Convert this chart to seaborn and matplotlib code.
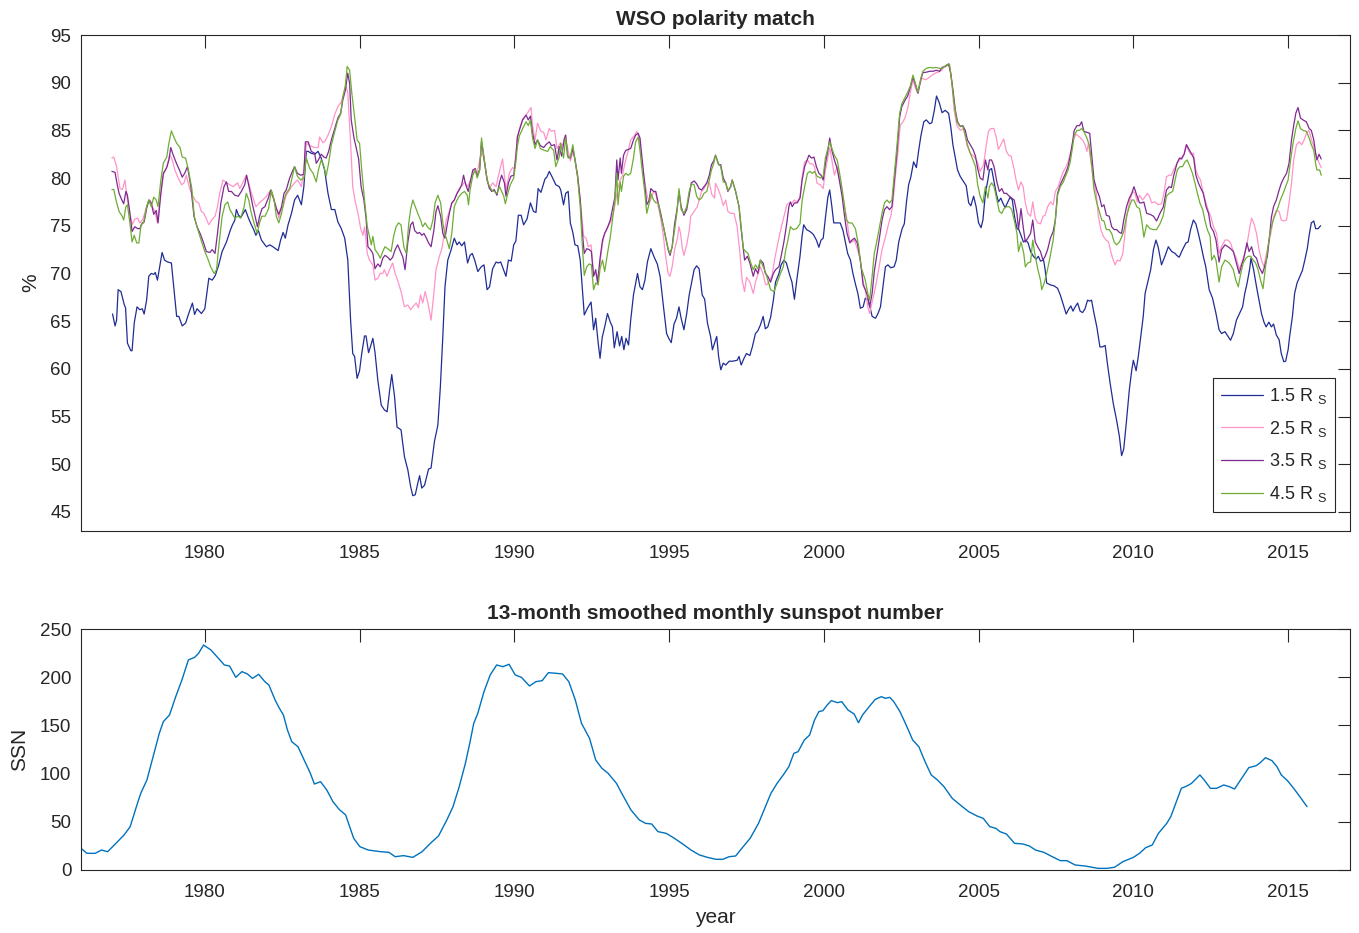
import numpy as np
import pandas as pd
import matplotlib
matplotlib.use("Agg")
import matplotlib.pyplot as plt
import seaborn as sns

# ---- WSO polarity match (%) at four source-surface heights: (year, percent) ----
wso_15 = [
    (1977.02, 65.75), (1977.10, 64.5), (1977.15, 65.1), (1977.20, 68.3), (1977.29, 68.1), (1977.40, 66.7),
    (1977.44, 66.4), (1977.50, 62.7), (1977.61, 61.9), (1977.65, 61.9), (1977.72, 64.8), (1977.81, 66.5),
    (1977.90, 66.2), (1977.98, 66.3), (1978.04, 65.75), (1978.12, 67.2), (1978.19, 69.7), (1978.27, 70.0),
    (1978.35, 69.9), (1978.40, 70.1), (1978.47, 69.3), (1978.62, 72.2), (1978.70, 71.4), (1978.80, 71.2),
    (1978.92, 71.1), (1979.09, 65.5), (1979.16, 65.5), (1979.27, 64.5), (1979.38, 64.8), (1979.48, 65.8),
    (1979.60, 66.9), (1979.67, 65.7), (1979.75, 66.3), (1979.89, 65.8), (1980.00, 66.3), (1980.13, 69.5),
    (1980.24, 69.3), (1980.34, 69.8), (1980.45, 70.9), (1980.56, 72.3), (1980.70, 73.3), (1980.81, 74.4),
    (1980.88, 75.0), (1980.97, 75.6), (1981.02, 76.7), (1981.09, 76.1), (1981.17, 75.9), (1981.31, 76.7),
    (1981.41, 75.8), (1981.49, 75.2), (1981.58, 74.6), (1981.65, 74.0), (1981.73, 74.5), (1981.83, 73.5),
    (1981.99, 72.8), (1982.10, 73.0), (1982.20, 72.8), (1982.37, 72.4), (1982.45, 73.5), (1982.53, 74.3),
    (1982.60, 73.7), (1982.69, 75.1), (1982.80, 76.3), (1982.90, 77.7), (1983.00, 78.2), (1983.12, 77.2),
    (1983.20, 79.1), (1983.28, 82.8), (1983.34, 82.8), (1983.44, 82.6), (1983.55, 82.5), (1983.66, 82.8),
    (1983.76, 82.1), (1983.87, 80.85), (1983.98, 78.4), (1984.09, 76.7), (1984.20, 76.7), (1984.30, 75.4),
    (1984.41, 74.7), (1984.52, 73.7), (1984.62, 71.4), (1984.71, 65.1), (1984.78, 61.6), (1984.84, 61.3),
    (1984.92, 59.0), (1985.00, 59.8), (1985.07, 61.6), (1985.16, 63.45), (1985.21, 63.45), (1985.29, 61.7),
    (1985.35, 62.3), (1985.43, 63.2), (1985.50, 61.7), (1985.59, 58.8), (1985.70, 56.2), (1985.80, 55.7),
    (1985.89, 55.5), (1985.97, 57.7), (1986.04, 59.4), (1986.13, 57.1), (1986.21, 53.9), (1986.34, 53.6),
    (1986.45, 50.8), (1986.56, 49.4), (1986.65, 47.65), (1986.72, 46.7), (1986.80, 46.8), (1986.88, 48.0),
    (1986.94, 48.8), (1987.01, 47.5), (1987.10, 47.8), (1987.23, 49.5), (1987.31, 49.6), (1987.42, 52.4),
    (1987.53, 54.1), (1987.61, 58.1), (1987.69, 63.4), (1987.76, 68.6), (1987.85, 71.4), (1987.96, 72.5),
    (1988.06, 73.7), (1988.15, 73.0), (1988.22, 73.3), (1988.30, 72.9), (1988.39, 73.3), (1988.49, 71.1),
    (1988.57, 71.9), (1988.64, 72.1), (1988.72, 71.4), (1988.82, 70.2), (1988.93, 70.7), (1989.02, 70.9),
    (1989.12, 68.3), (1989.20, 68.6), (1989.30, 70.5), (1989.41, 71.2), (1989.48, 71.1), (1989.56, 71.2),
    (1989.65, 70.4), (1989.73, 69.7), (1989.81, 71.4), (1989.90, 71.3), (1989.98, 73.0), (1990.05, 73.4),
    (1990.13, 76.1), (1990.22, 76.1), (1990.30, 75.1), (1990.41, 75.7), (1990.52, 77.4), (1990.62, 76.5),
    (1990.70, 76.4), (1990.77, 78.9), (1990.86, 78.5), (1990.99, 79.9), (1991.05, 80.1), (1991.13, 80.7),
    (1991.24, 80.0), (1991.34, 79.3), (1991.45, 79.1), (1991.50, 78.75), (1991.59, 77.2), (1991.66, 78.4),
    (1991.74, 78.6), (1991.81, 75.3), (1991.89, 74.3), (1991.96, 73.0), (1992.05, 72.9), (1992.13, 71.4),
    (1992.20, 68.3), (1992.26, 65.65), (1992.37, 66.4), (1992.48, 67.0), (1992.56, 64.1), (1992.63, 65.3),
    (1992.71, 62.7), (1992.77, 61.1), (1992.84, 63.3), (1992.92, 64.4), (1993.01, 65.8), (1993.10, 64.9),
    (1993.17, 64.4), (1993.23, 62.2), (1993.32, 63.9), (1993.40, 62.4), (1993.47, 63.4), (1993.54, 62.0),
    (1993.61, 63.2), (1993.69, 62.5), (1993.76, 65.1), (1993.85, 67.75), (1993.98, 70.0), (1994.06, 68.6),
    (1994.14, 68.3), (1994.22, 69.3), (1994.30, 71.2), (1994.41, 72.6), (1994.52, 71.7), (1994.62, 71.0),
    (1994.71, 69.7), (1994.82, 66.5), (1994.92, 63.7), (1994.99, 63.2), (1995.07, 62.75), (1995.16, 64.7),
    (1995.24, 65.3), (1995.32, 66.5), (1995.39, 65.3), (1995.48, 64.1), (1995.57, 65.8), (1995.65, 67.75),
    (1995.72, 68.9), (1995.81, 70.4), (1995.89, 70.8), (1995.97, 70.5), (1996.07, 67.75), (1996.15, 67.3),
    (1996.24, 64.8), (1996.34, 63.4), (1996.40, 62.0), (1996.47, 62.7), (1996.54, 63.4), (1996.60, 61.3),
    (1996.67, 59.9), (1996.75, 60.6), (1996.83, 60.4), (1996.94, 60.8), (1997.05, 60.8), (1997.20, 60.9),
    (1997.26, 61.3), (1997.33, 60.4), (1997.42, 61.1), (1997.50, 61.6), (1997.61, 61.4), (1997.69, 62.3),
    (1997.79, 63.7), (1997.87, 64.0), (1997.95, 64.6), (1998.04, 65.5), (1998.11, 64.2), (1998.19, 64.4),
    (1998.28, 65.4), (1998.37, 67.2), (1998.44, 69.1), (1998.55, 70.0), (1998.62, 70.9), (1998.71, 71.4),
    (1998.79, 71.1), (1998.90, 69.8), (1998.97, 69.1), (1999.05, 67.3), (1999.13, 69.4), (1999.23, 71.8),
    (1999.30, 74.0), (1999.35, 75.1), (1999.44, 74.6), (1999.55, 74.4), (1999.66, 74.1), (1999.76, 73.5),
    (1999.84, 72.75), (1999.91, 73.5), (1999.98, 73.7), (2000.05, 75.8), (2000.13, 78.0), (2000.19, 78.75),
    (2000.26, 77.0), (2000.32, 75.3), (2000.42, 75.3), (2000.53, 75.3), (2000.62, 74.5), (2000.70, 73.2),
    (2000.77, 72.1), (2000.86, 71.4), (2000.94, 70.0), (2001.02, 68.9), (2001.10, 67.9), (2001.18, 66.35),
    (2001.27, 66.5), (2001.34, 67.4), (2001.42, 67.3), (2001.49, 66.5), (2001.56, 65.5), (2001.67, 65.3),
    (2001.75, 65.8), (2001.83, 66.5), (2001.91, 68.6), (2001.99, 70.7), (2002.07, 70.9), (2002.16, 70.6),
    (2002.27, 70.7), (2002.34, 71.4), (2002.42, 73.3), (2002.53, 74.7), (2002.60, 75.2), (2002.67, 77.5),
    (2002.74, 79.3), (2002.81, 80.1), (2002.90, 81.7), (2002.99, 81.1), (2003.06, 82.8), (2003.14, 84.5),
    (2003.23, 85.9), (2003.31, 86.1), (2003.42, 85.7), (2003.49, 85.8), (2003.57, 87.1), (2003.64, 88.6),
    (2003.73, 87.9), (2003.82, 86.85), (2003.92, 87.1), (2004.03, 86.8), (2004.10, 85.4), (2004.17, 83.5),
    (2004.25, 82.1), (2004.32, 80.85), (2004.41, 80.15), (2004.52, 79.6), (2004.60, 79.2), (2004.68, 77.4),
    (2004.75, 77.1), (2004.84, 78.1), (2004.92, 77.0), (2005.00, 75.3), (2005.08, 74.8), (2005.14, 75.6),
    (2005.22, 78.4), (2005.30, 79.8), (2005.35, 80.85), (2005.42, 81.0), (2005.50, 79.6), (2005.57, 78.4),
    (2005.64, 77.5), (2005.72, 77.9), (2005.78, 77.4), (2005.86, 76.9), (2005.93, 77.4), (2006.02, 78.0),
    (2006.09, 77.7), (2006.16, 76.0), (2006.24, 74.7), (2006.30, 74.6), (2006.38, 73.9), (2006.45, 73.3),
    (2006.53, 73.5), (2006.60, 73.2), (2006.68, 72.3), (2006.77, 71.8), (2006.86, 71.5), (2006.93, 71.8),
    (2007.00, 71.3), (2007.10, 71.4), (2007.15, 70.4), (2007.20, 69.0), (2007.32, 68.8), (2007.44, 68.7),
    (2007.55, 68.45), (2007.64, 67.75), (2007.74, 66.7), (2007.83, 65.75), (2007.90, 66.2), (2007.98, 66.6),
    (2008.05, 66.05), (2008.12, 66.5), (2008.20, 66.9), (2008.28, 66.05), (2008.36, 65.9), (2008.44, 66.3),
    (2008.52, 67.2), (2008.59, 67.1), (2008.65, 67.2), (2008.73, 65.8), (2008.82, 64.4), (2008.92, 62.3),
    (2009.00, 62.3), (2009.09, 62.45), (2009.16, 60.6), (2009.25, 58.5), (2009.35, 56.4), (2009.46, 54.6),
    (2009.55, 52.9), (2009.62, 50.9), (2009.69, 51.6), (2009.78, 54.6), (2009.87, 57.8), (2009.95, 59.9),
    (2010.00, 60.9), (2010.09, 59.8), (2010.16, 61.3), (2010.24, 63.4), (2010.32, 65.5), (2010.38, 67.9),
    (2010.48, 69.3), (2010.56, 70.4), (2010.65, 72.5), (2010.73, 73.5), (2010.80, 72.8), (2010.91, 70.9),
    (2011.02, 71.8), (2011.13, 72.8), (2011.24, 72.3), (2011.35, 72.1), (2011.40, 71.9), (2011.48, 71.7),
    (2011.59, 72.5), (2011.70, 73.2), (2011.77, 73.3), (2011.85, 74.6), (2011.94, 75.6), (2012.02, 75.2),
    (2012.10, 74.2), (2012.17, 73.2), (2012.26, 71.8), (2012.34, 70.7), (2012.45, 68.3), (2012.56, 67.4),
    (2012.67, 65.8), (2012.77, 64.1), (2012.85, 63.7), (2012.96, 63.9), (2013.06, 63.4), (2013.14, 63.0),
    (2013.23, 63.7), (2013.33, 65.1), (2013.43, 65.8), (2013.53, 66.5), (2013.60, 67.9), (2013.67, 68.9),
    (2013.76, 70.5), (2013.80, 71.6), (2013.88, 70.5), (2013.98, 68.6), (2014.06, 67.2), (2014.14, 65.8),
    (2014.22, 64.9), (2014.29, 64.4), (2014.38, 64.9), (2014.46, 64.4), (2014.53, 64.7), (2014.62, 63.55),
    (2014.71, 63.05), (2014.78, 61.6), (2014.86, 60.75), (2014.92, 60.8), (2015.00, 62.0), (2015.05, 63.4),
    (2015.14, 65.5), (2015.21, 67.9), (2015.29, 69.0), (2015.38, 69.7), (2015.46, 70.3), (2015.54, 71.4),
    (2015.62, 72.6), (2015.68, 74.0), (2015.75, 75.3), (2015.83, 75.5), (2015.89, 74.7), (2015.97, 74.7),
    (2016.05, 75.0),
]

wso_25 = [
    (1977.00, 82.1), (1977.06, 82.2), (1977.15, 81.2), (1977.26, 78.9), (1977.34, 78.8), (1977.42, 79.8),
    (1977.50, 77.7), (1977.58, 76.3), (1977.65, 75.1), (1977.74, 75.7), (1977.83, 75.8), (1977.90, 75.3),
    (1978.00, 75.7), (1978.12, 77.0), (1978.23, 77.7), (1978.30, 77.0), (1978.39, 76.5), (1978.47, 75.3),
    (1978.55, 77.7), (1978.66, 80.3), (1978.77, 81.2), (1978.87, 82.4), (1978.95, 81.9), (1979.03, 80.85),
    (1979.14, 80.0), (1979.25, 79.3), (1979.33, 79.5), (1979.40, 80.3), (1979.51, 78.9), (1979.62, 78.05),
    (1979.73, 77.5), (1979.80, 77.4), (1979.89, 76.5), (1979.97, 76.3), (1980.04, 75.8), (1980.13, 75.1),
    (1980.22, 75.6), (1980.33, 76.0), (1980.41, 77.0), (1980.48, 78.4), (1980.59, 79.8), (1980.70, 79.5),
    (1980.81, 79.3), (1980.92, 79.1), (1981.06, 79.5), (1981.13, 78.9), (1981.24, 79.6), (1981.34, 80.3),
    (1981.42, 79.5), (1981.49, 78.6), (1981.58, 77.7), (1981.65, 77.0), (1981.76, 77.4), (1981.87, 77.7),
    (1981.97, 78.0), (1982.10, 78.6), (1982.20, 78.0), (1982.31, 77.0), (1982.39, 75.8), (1982.45, 76.5),
    (1982.53, 77.0), (1982.63, 78.2), (1982.71, 78.6), (1982.80, 79.1), (1982.90, 79.5), (1983.00, 79.8),
    (1983.12, 79.1), (1983.20, 80.85), (1983.28, 83.65), (1983.39, 83.4), (1983.55, 83.2), (1983.66, 83.2),
    (1983.71, 84.3), (1983.82, 83.7), (1983.89, 83.9), (1983.98, 84.5), (1984.09, 85.4), (1984.19, 86.6),
    (1984.30, 87.5), (1984.41, 88.0), (1984.49, 88.9), (1984.57, 89.6), (1984.62, 88.9), (1984.71, 83.65),
    (1984.78, 79.1), (1984.85, 77.7), (1984.95, 76.3), (1985.03, 74.8), (1985.11, 74.0), (1985.16, 74.9),
    (1985.25, 72.1), (1985.32, 71.4), (1985.43, 70.9), (1985.50, 69.3), (1985.59, 69.5), (1985.67, 70.0),
    (1985.75, 70.0), (1985.80, 70.4), (1985.89, 69.7), (1985.97, 70.4), (1986.07, 71.1), (1986.15, 70.0),
    (1986.23, 69.3), (1986.34, 68.1), (1986.45, 66.5), (1986.56, 66.7), (1986.65, 66.2), (1986.72, 66.5),
    (1986.83, 66.9), (1986.90, 66.4), (1986.97, 67.75), (1987.04, 66.9), (1987.12, 68.1), (1987.21, 66.9),
    (1987.31, 65.1), (1987.40, 67.9), (1987.47, 70.4), (1987.58, 71.8), (1987.66, 72.6), (1987.72, 73.8),
    (1987.80, 75.6), (1987.88, 76.3), (1987.96, 77.2), (1988.06, 77.7), (1988.15, 78.4), (1988.22, 78.9),
    (1988.33, 79.3), (1988.40, 79.6), (1988.49, 79.1), (1988.60, 79.9), (1988.71, 80.85), (1988.80, 80.5),
    (1988.90, 82.2), (1988.98, 82.6), (1989.09, 80.5), (1989.19, 78.9), (1989.30, 79.5), (1989.41, 79.1),
    (1989.52, 80.7), (1989.62, 82.0), (1989.73, 78.75), (1989.84, 80.5), (1989.94, 81.1), (1990.00, 81.0),
    (1990.10, 84.3), (1990.20, 85.5), (1990.27, 86.2), (1990.38, 86.6), (1990.48, 87.1), (1990.54, 87.4),
    (1990.59, 85.5), (1990.67, 84.0), (1990.75, 85.75), (1990.86, 84.9), (1990.95, 84.8), (1991.02, 84.0),
    (1991.13, 85.2), (1991.20, 84.9), (1991.30, 85.0), (1991.38, 83.1), (1991.49, 83.7), (1991.56, 83.4),
    (1991.64, 84.5), (1991.73, 83.0), (1991.81, 81.8), (1991.89, 82.8), (1991.96, 82.0), (1992.06, 80.0),
    (1992.15, 77.0), (1992.24, 73.9), (1992.32, 73.7), (1992.39, 72.8), (1992.48, 73.0), (1992.56, 70.0),
    (1992.63, 69.9), (1992.71, 69.7), (1992.77, 71.1), (1992.85, 73.2), (1992.92, 74.2), (1993.01, 74.8),
    (1993.12, 75.5), (1993.20, 76.3), (1993.28, 77.7), (1993.33, 78.75), (1993.42, 79.8), (1993.50, 80.3),
    (1993.57, 81.55), (1993.66, 82.6), (1993.76, 84.0), (1993.87, 84.4), (1993.96, 84.9), (1994.03, 84.3),
    (1994.10, 82.3), (1994.19, 80.15), (1994.28, 78.3), (1994.36, 77.4), (1994.43, 77.9), (1994.50, 78.6),
    (1994.57, 78.4), (1994.65, 77.0), (1994.73, 75.8), (1994.82, 73.8), (1994.89, 71.8), (1994.97, 70.0),
    (1995.03, 69.7), (1995.10, 70.7), (1995.18, 72.5), (1995.27, 73.7), (1995.32, 74.9), (1995.37, 74.2),
    (1995.43, 72.6), (1995.48, 71.9), (1995.57, 73.0), (1995.65, 74.5), (1995.70, 76.0), (1995.81, 76.5),
    (1995.91, 77.0), (1995.97, 77.7), (1996.05, 78.6), (1996.13, 78.9), (1996.22, 79.5), (1996.30, 79.5),
    (1996.38, 78.3), (1996.47, 77.9), (1996.50, 79.45), (1996.60, 78.75), (1996.67, 78.1), (1996.75, 77.1),
    (1996.83, 77.7), (1996.90, 76.5), (1996.99, 76.3), (1997.10, 76.3), (1997.20, 74.9), (1997.29, 72.1),
    (1997.36, 69.3), (1997.44, 68.1), (1997.50, 69.6), (1997.61, 69.1), (1997.72, 67.9), (1997.79, 69.1),
    (1997.87, 69.9), (1997.95, 70.7), (1998.04, 69.9), (1998.11, 68.9), (1998.16, 68.8), (1998.25, 69.3),
    (1998.33, 69.8), (1998.40, 71.3), (1998.49, 72.8), (1998.58, 74.2), (1998.66, 75.3), (1998.73, 76.2),
    (1998.80, 77.2), (1998.88, 77.4), (1998.98, 77.4), (1999.05, 77.7), (1999.14, 77.5), (1999.23, 78.0),
    (1999.30, 80.15), (1999.38, 81.7), (1999.47, 81.9), (1999.55, 81.5), (1999.63, 81.5), (1999.70, 81.2),
    (1999.78, 79.45), (1999.89, 79.3), (1999.98, 78.9), (2000.05, 80.85), (2000.13, 82.1), (2000.19, 83.2),
    (2000.26, 81.9), (2000.34, 80.3), (2000.43, 81.2), (2000.51, 80.0), (2000.59, 78.6), (2000.67, 77.0),
    (2000.75, 75.6), (2000.83, 73.5), (2000.91, 73.3), (2000.99, 73.5), (2001.08, 72.6), (2001.18, 71.4),
    (2001.27, 69.1), (2001.34, 68.3), (2001.42, 66.5), (2001.48, 65.8), (2001.56, 67.0), (2001.67, 68.6),
    (2001.77, 70.4), (2001.88, 72.5), (2001.99, 73.8), (2002.10, 75.3), (2002.17, 76.1), (2002.23, 77.3),
    (2002.31, 80.15), (2002.39, 82.6), (2002.47, 85.55), (2002.56, 85.9), (2002.63, 86.4), (2002.71, 87.3),
    (2002.80, 89.05), (2002.88, 90.3), (2002.96, 89.4), (2003.04, 88.9), (2003.10, 89.8), (2003.17, 90.5),
    (2003.28, 90.3), (2003.39, 90.5), (2003.50, 90.8), (2003.60, 91.0), (2003.70, 91.1), (2003.81, 91.3),
    (2003.87, 91.6), (2003.98, 91.8), (2004.06, 91.85), (2004.14, 89.9), (2004.21, 87.1), (2004.30, 85.5),
    (2004.41, 85.0), (2004.52, 85.2), (2004.62, 83.5), (2004.73, 82.6), (2004.84, 82.3), (2004.95, 81.8),
    (2005.05, 80.7), (2005.16, 81.4), (2005.25, 83.5), (2005.32, 84.9), (2005.40, 85.2), (2005.49, 85.2),
    (2005.57, 84.3), (2005.64, 83.0), (2005.72, 83.5), (2005.81, 84.1), (2005.90, 82.8), (2005.97, 82.4),
    (2006.05, 82.3), (2006.14, 81.05), (2006.21, 79.8), (2006.29, 78.75), (2006.37, 79.6), (2006.44, 79.1),
    (2006.51, 77.4), (2006.59, 76.3), (2006.68, 76.0), (2006.75, 77.5), (2006.83, 75.8), (2006.91, 75.3),
    (2007.00, 75.2), (2007.08, 76.0), (2007.15, 76.1), (2007.23, 77.0), (2007.32, 77.5), (2007.41, 77.2),
    (2007.48, 78.6), (2007.57, 79.1), (2007.66, 80.0), (2007.74, 80.7), (2007.83, 81.2), (2007.90, 81.8),
    (2007.98, 82.8), (2008.06, 84.0), (2008.15, 84.6), (2008.26, 84.3), (2008.36, 84.0), (2008.44, 83.5),
    (2008.50, 82.8), (2008.55, 83.65), (2008.62, 81.9), (2008.71, 79.8), (2008.80, 78.4), (2008.87, 76.0),
    (2008.95, 74.6), (2009.03, 73.9), (2009.12, 73.5), (2009.20, 73.3), (2009.27, 72.3), (2009.35, 71.4),
    (2009.41, 70.9), (2009.48, 71.4), (2009.57, 71.3), (2009.66, 72.1), (2009.73, 74.2), (2009.80, 76.3),
    (2009.89, 77.7), (2009.98, 78.6), (2010.05, 78.4), (2010.13, 77.5), (2010.20, 78.2), (2010.29, 77.7),
    (2010.37, 78.0), (2010.45, 78.4), (2010.52, 78.1), (2010.59, 77.4), (2010.70, 77.5), (2010.80, 77.2),
    (2010.91, 77.3), (2010.99, 78.4), (2011.07, 80.15), (2011.16, 80.3), (2011.23, 80.3), (2011.30, 80.85),
    (2011.41, 81.55), (2011.49, 81.9), (2011.56, 82.2), (2011.64, 82.5), (2011.70, 83.5), (2011.77, 83.0),
    (2011.85, 82.5), (2011.94, 82.6), (2012.02, 80.85), (2012.10, 80.15), (2012.17, 79.8), (2012.26, 78.4),
    (2012.35, 77.4), (2012.43, 76.5), (2012.50, 76.0), (2012.59, 74.9), (2012.69, 74.2), (2012.77, 72.1),
    (2012.85, 72.8), (2012.96, 73.5), (2013.06, 73.5), (2013.14, 73.2), (2013.23, 72.3), (2013.33, 71.6),
    (2013.42, 70.4), (2013.50, 71.1), (2013.57, 71.8), (2013.66, 72.8), (2013.74, 74.4), (2013.82, 75.8),
    (2013.89, 75.3), (2013.98, 74.2), (2014.06, 72.5), (2014.14, 71.4), (2014.22, 70.7), (2014.29, 71.9),
    (2014.38, 73.3), (2014.46, 74.5), (2014.53, 75.9), (2014.62, 76.6), (2014.71, 76.5), (2014.78, 75.6),
    (2014.86, 75.5), (2014.95, 75.6), (2015.03, 77.4), (2015.11, 79.45), (2015.18, 81.9), (2015.27, 83.5),
    (2015.36, 83.8), (2015.44, 83.5), (2015.52, 84.0), (2015.59, 84.7), (2015.67, 85.0), (2015.76, 84.0),
    (2015.83, 83.3), (2015.91, 82.3), (2016.00, 81.6), (2016.07, 81.1),
]

wso_35 = [
    (1977.00, 80.7), (1977.10, 80.6), (1977.16, 79.5), (1977.23, 78.4), (1977.32, 77.7), (1977.38, 77.3),
    (1977.45, 78.6), (1977.50, 78.2), (1977.58, 76.3), (1977.65, 74.4), (1977.74, 74.9), (1977.83, 74.7),
    (1977.90, 74.7), (1977.98, 75.3), (1978.04, 75.4), (1978.12, 76.8), (1978.19, 77.7), (1978.27, 77.4),
    (1978.35, 76.2), (1978.43, 76.6), (1978.49, 75.3), (1978.58, 78.4), (1978.66, 80.5), (1978.77, 81.1),
    (1978.84, 81.9), (1978.90, 83.2), (1978.98, 82.4), (1979.09, 81.5), (1979.20, 80.7), (1979.27, 80.1),
    (1979.35, 80.5), (1979.44, 81.2), (1979.55, 79.1), (1979.65, 76.0), (1979.75, 74.9), (1979.86, 74.1),
    (1979.94, 73.4), (1980.05, 72.3), (1980.16, 72.2), (1980.24, 72.5), (1980.33, 72.1), (1980.41, 74.2),
    (1980.52, 77.4), (1980.62, 79.1), (1980.70, 79.6), (1980.77, 78.6), (1980.86, 78.6), (1980.97, 78.2),
    (1981.08, 78.1), (1981.18, 78.6), (1981.29, 79.3), (1981.35, 80.3), (1981.45, 78.75), (1981.53, 77.4),
    (1981.61, 76.2), (1981.70, 74.9), (1981.77, 76.0), (1981.85, 76.8), (1981.94, 77.0), (1982.05, 77.9),
    (1982.13, 78.75), (1982.20, 78.1), (1982.31, 76.8), (1982.39, 76.2), (1982.48, 77.0), (1982.56, 78.4),
    (1982.63, 78.75), (1982.74, 80.0), (1982.85, 80.85), (1982.90, 81.2), (1982.99, 80.5), (1983.10, 80.3),
    (1983.20, 80.4), (1983.25, 83.8), (1983.34, 83.8), (1983.44, 82.8), (1983.55, 82.6), (1983.60, 81.55),
    (1983.67, 81.9), (1983.76, 82.5), (1983.85, 82.2), (1983.92, 82.1), (1984.00, 82.8), (1984.09, 84.0),
    (1984.20, 85.2), (1984.30, 86.3), (1984.39, 86.8), (1984.46, 88.2), (1984.54, 89.2), (1984.62, 91.0),
    (1984.68, 89.9), (1984.73, 86.1), (1984.82, 84.2), (1984.89, 83.2), (1984.97, 82.0), (1985.05, 79.1),
    (1985.14, 77.7), (1985.21, 75.8), (1985.27, 72.8), (1985.35, 72.5), (1985.43, 72.1), (1985.50, 70.5),
    (1985.59, 71.0), (1985.67, 70.7), (1985.75, 71.6), (1985.82, 71.9), (1985.91, 71.7), (1985.99, 71.4),
    (1986.07, 71.7), (1986.15, 72.5), (1986.23, 73.0), (1986.32, 72.3), (1986.40, 71.7), (1986.47, 70.4),
    (1986.56, 73.3), (1986.65, 75.1), (1986.72, 75.4), (1986.78, 74.5), (1986.87, 74.2), (1986.94, 74.3),
    (1987.01, 74.0), (1987.08, 74.2), (1987.16, 73.7), (1987.23, 73.2), (1987.31, 72.8), (1987.40, 74.5),
    (1987.47, 76.5), (1987.53, 77.1), (1987.62, 76.0), (1987.69, 74.2), (1987.76, 73.7), (1987.83, 75.1),
    (1987.90, 76.3), (1987.98, 77.4), (1988.06, 77.7), (1988.15, 78.4), (1988.22, 78.75), (1988.30, 79.3),
    (1988.36, 80.3), (1988.43, 79.3), (1988.51, 78.6), (1988.57, 79.5), (1988.66, 80.85), (1988.74, 81.0),
    (1988.80, 80.2), (1988.88, 80.85), (1988.94, 83.8), (1989.03, 81.9), (1989.12, 79.8), (1989.20, 78.9),
    (1989.27, 78.6), (1989.35, 78.8), (1989.44, 78.2), (1989.52, 79.5), (1989.59, 80.3), (1989.68, 79.5),
    (1989.73, 78.1), (1989.81, 79.5), (1989.89, 80.2), (1989.98, 80.3), (1990.05, 82.2), (1990.10, 84.3),
    (1990.16, 85.0), (1990.27, 86.1), (1990.38, 86.6), (1990.45, 86.1), (1990.52, 86.5), (1990.59, 84.7),
    (1990.67, 83.5), (1990.75, 84.0), (1990.84, 83.4), (1990.95, 83.2), (1991.02, 83.5), (1991.13, 83.8),
    (1991.20, 83.4), (1991.30, 83.5), (1991.38, 81.9), (1991.45, 83.3), (1991.53, 82.3), (1991.61, 84.0),
    (1991.66, 84.5), (1991.72, 82.3), (1991.81, 82.1), (1991.89, 83.1), (1991.96, 81.9), (1992.04, 80.3),
    (1992.13, 77.7), (1992.20, 74.2), (1992.26, 72.1), (1992.34, 72.6), (1992.42, 72.5), (1992.49, 72.3),
    (1992.56, 69.7), (1992.63, 70.4), (1992.69, 69.0), (1992.77, 71.6), (1992.85, 73.5), (1992.92, 74.2),
    (1993.01, 74.8), (1993.10, 75.6), (1993.17, 76.7), (1993.25, 78.0), (1993.31, 81.9), (1993.35, 79.8),
    (1993.42, 82.1), (1993.46, 80.5), (1993.53, 82.4), (1993.60, 82.9), (1993.68, 83.0), (1993.76, 83.1),
    (1993.85, 84.0), (1993.92, 84.5), (1994.00, 84.7), (1994.06, 84.2), (1994.14, 81.6), (1994.22, 79.1),
    (1994.28, 77.2), (1994.36, 77.7), (1994.41, 78.9), (1994.50, 78.6), (1994.57, 78.6), (1994.65, 77.4),
    (1994.73, 76.3), (1994.82, 74.9), (1994.89, 73.8), (1994.97, 72.5), (1995.03, 71.9), (1995.10, 72.8),
    (1995.18, 75.2), (1995.27, 77.0), (1995.32, 78.6), (1995.39, 77.0), (1995.48, 76.1), (1995.57, 76.7),
    (1995.65, 78.2), (1995.72, 79.5), (1995.81, 79.7), (1995.89, 79.4), (1995.97, 78.9), (1996.05, 78.75),
    (1996.13, 79.1), (1996.22, 79.5), (1996.30, 80.3), (1996.37, 81.4), (1996.44, 81.8), (1996.50, 82.4),
    (1996.60, 81.4), (1996.67, 81.4), (1996.75, 80.0), (1996.83, 79.5), (1996.90, 78.6), (1996.99, 79.1),
    (1997.04, 79.8), (1997.15, 78.6), (1997.26, 77.0), (1997.33, 74.6), (1997.40, 72.5), (1997.44, 71.4),
    (1997.53, 71.8), (1997.61, 71.1), (1997.72, 69.7), (1997.79, 70.5), (1997.87, 70.0), (1997.95, 71.4),
    (1998.04, 71.1), (1998.11, 70.0), (1998.19, 69.7), (1998.28, 69.1), (1998.37, 70.0), (1998.44, 70.4),
    (1998.55, 70.7), (1998.62, 71.8), (1998.71, 73.3), (1998.80, 75.2), (1998.87, 77.0), (1998.92, 77.5),
    (1998.98, 77.0), (1999.05, 77.4), (1999.14, 77.4), (1999.23, 77.9), (1999.30, 79.8), (1999.38, 81.2),
    (1999.46, 81.9), (1999.52, 82.4), (1999.60, 82.1), (1999.68, 82.2), (1999.76, 81.2), (1999.84, 80.5),
    (1999.91, 80.3), (1999.98, 79.8), (2000.05, 81.5), (2000.13, 82.9), (2000.19, 84.2), (2000.26, 82.9),
    (2000.34, 81.9), (2000.43, 81.0), (2000.51, 79.6), (2000.59, 78.1), (2000.67, 76.0), (2000.75, 74.2),
    (2000.84, 73.2), (2000.91, 73.5), (2000.99, 73.7), (2001.08, 73.2), (2001.18, 71.4), (2001.27, 68.8),
    (2001.34, 68.3), (2001.42, 67.6), (2001.48, 66.5), (2001.56, 67.9), (2001.63, 70.2), (2001.72, 72.1),
    (2001.80, 73.8), (2001.88, 75.6), (2001.96, 76.7), (2002.04, 77.0), (2002.12, 76.7), (2002.20, 77.0),
    (2002.27, 79.45), (2002.36, 82.6), (2002.45, 86.4), (2002.52, 87.5), (2002.63, 88.2), (2002.71, 88.6),
    (2002.80, 89.6), (2002.88, 90.6), (2002.96, 89.8), (2003.04, 88.9), (2003.13, 90.3), (2003.20, 91.05),
    (2003.31, 91.1), (2003.42, 91.2), (2003.53, 91.2), (2003.63, 91.3), (2003.74, 91.2), (2003.82, 91.6),
    (2003.92, 91.7), (2004.03, 91.96), (2004.10, 91.0), (2004.17, 89.3), (2004.25, 87.1), (2004.32, 85.9),
    (2004.41, 85.4), (2004.49, 85.5), (2004.57, 85.0), (2004.64, 84.0), (2004.73, 83.5), (2004.82, 83.0),
    (2004.90, 82.3), (2004.97, 81.0), (2005.05, 80.0), (2005.14, 79.8), (2005.22, 81.9), (2005.30, 80.85),
    (2005.35, 81.9), (2005.42, 81.9), (2005.50, 81.2), (2005.59, 79.6), (2005.67, 78.6), (2005.75, 78.9),
    (2005.82, 78.4), (2005.90, 78.4), (2005.99, 78.1), (2006.07, 77.9), (2006.15, 77.7), (2006.24, 76.3),
    (2006.29, 74.6), (2006.37, 76.8), (2006.44, 74.9), (2006.51, 73.3), (2006.59, 73.7), (2006.68, 74.2),
    (2006.75, 75.6), (2006.83, 73.3), (2006.91, 72.8), (2007.00, 72.3), (2007.08, 71.4), (2007.15, 71.8),
    (2007.23, 72.5), (2007.32, 73.7), (2007.41, 74.4), (2007.48, 75.6), (2007.55, 78.4), (2007.64, 79.3),
    (2007.74, 80.0), (2007.81, 80.5), (2007.89, 81.2), (2007.96, 82.3), (2008.03, 83.65), (2008.09, 85.0),
    (2008.18, 85.5), (2008.26, 85.5), (2008.33, 85.9), (2008.40, 84.9), (2008.50, 84.8), (2008.59, 84.7),
    (2008.66, 82.3), (2008.73, 79.8), (2008.82, 78.75), (2008.90, 78.1), (2008.98, 77.0), (2009.05, 77.2),
    (2009.13, 76.1), (2009.22, 76.0), (2009.30, 74.9), (2009.38, 74.6), (2009.46, 74.6), (2009.55, 74.3),
    (2009.62, 74.2), (2009.69, 75.6), (2009.78, 77.0), (2009.87, 77.9), (2009.95, 78.4), (2010.02, 79.1),
    (2010.11, 78.2), (2010.20, 77.4), (2010.27, 77.4), (2010.34, 77.5), (2010.43, 76.3), (2010.54, 76.2),
    (2010.65, 76.0), (2010.75, 75.5), (2010.86, 76.3), (2010.97, 77.0), (2011.07, 78.75), (2011.16, 79.1),
    (2011.23, 79.0), (2011.30, 80.2), (2011.41, 81.55), (2011.49, 82.1), (2011.56, 82.0), (2011.64, 82.5),
    (2011.72, 83.5), (2011.80, 83.0), (2011.87, 82.6), (2011.95, 82.1), (2012.02, 80.3), (2012.10, 79.5),
    (2012.17, 79.0), (2012.26, 78.4), (2012.35, 77.0), (2012.43, 76.3), (2012.50, 74.9), (2012.59, 74.4),
    (2012.67, 73.5), (2012.77, 71.2), (2012.85, 72.5), (2012.96, 73.0), (2013.06, 72.8), (2013.14, 72.6),
    (2013.23, 72.3), (2013.33, 71.1), (2013.42, 70.0), (2013.50, 70.9), (2013.57, 71.6), (2013.67, 73.2),
    (2013.74, 72.3), (2013.82, 72.8), (2013.89, 71.9), (2013.98, 71.6), (2014.06, 70.7), (2014.17, 70.0),
    (2014.24, 70.7), (2014.33, 71.8), (2014.41, 74.2), (2014.46, 75.9), (2014.53, 77.0), (2014.62, 77.7),
    (2014.71, 78.75), (2014.78, 79.45), (2014.86, 80.0), (2014.95, 80.5), (2015.03, 81.55), (2015.11, 84.0),
    (2015.18, 85.5), (2015.25, 86.8), (2015.32, 87.4), (2015.40, 86.3), (2015.48, 86.1), (2015.59, 85.9),
    (2015.68, 85.2), (2015.75, 85.0), (2015.83, 84.0), (2015.89, 82.6), (2015.93, 81.9), (2016.00, 82.5),
    (2016.07, 82.0),
]

wso_45 = [
    (1977.00, 78.8), (1977.06, 78.8), (1977.13, 77.7), (1977.23, 76.5), (1977.33, 76.0), (1977.38, 75.6),
    (1977.45, 77.0), (1977.50, 77.2), (1977.58, 75.3), (1977.65, 73.3), (1977.72, 74.0), (1977.80, 73.2),
    (1977.87, 73.2), (1977.94, 75.1), (1978.02, 75.3), (1978.12, 77.0), (1978.19, 77.7), (1978.27, 77.0),
    (1978.35, 78.0), (1978.43, 77.7), (1978.49, 77.0), (1978.58, 79.8), (1978.66, 81.55), (1978.77, 82.2),
    (1978.84, 83.65), (1978.92, 84.95), (1979.00, 84.3), (1979.09, 83.65), (1979.20, 83.2), (1979.27, 82.2),
    (1979.38, 82.1), (1979.47, 80.85), (1979.58, 78.9), (1979.66, 76.0), (1979.73, 75.1), (1979.84, 73.9),
    (1979.91, 73.2), (1980.00, 72.3), (1980.09, 71.6), (1980.19, 70.7), (1980.30, 70.0), (1980.38, 70.4),
    (1980.45, 72.8), (1980.56, 76.0), (1980.65, 77.2), (1980.74, 77.5), (1980.81, 76.7), (1980.88, 76.3),
    (1980.97, 75.8), (1981.06, 76.0), (1981.16, 75.8), (1981.27, 77.0), (1981.34, 78.4), (1981.42, 77.7),
    (1981.49, 76.5), (1981.58, 75.4), (1981.69, 74.2), (1981.77, 75.3), (1981.84, 76.0), (1981.95, 76.0),
    (1982.06, 76.8), (1982.15, 78.75), (1982.24, 77.7), (1982.31, 76.0), (1982.39, 75.3), (1982.48, 76.3),
    (1982.56, 77.7), (1982.63, 78.4), (1982.74, 78.9), (1982.85, 80.5), (1982.90, 81.2), (1982.99, 80.2),
    (1983.10, 79.8), (1983.20, 80.0), (1983.28, 82.1), (1983.39, 81.0), (1983.50, 80.5), (1983.60, 79.6),
    (1983.67, 80.85), (1983.76, 81.9), (1983.85, 81.2), (1983.92, 80.2), (1984.00, 81.55), (1984.09, 83.5),
    (1984.20, 84.9), (1984.30, 86.1), (1984.39, 86.7), (1984.46, 88.5), (1984.54, 89.7), (1984.60, 91.7),
    (1984.68, 91.3), (1984.75, 88.9), (1984.84, 86.4), (1984.92, 84.0), (1985.00, 83.65), (1985.07, 80.85),
    (1985.16, 77.7), (1985.25, 74.9), (1985.32, 73.9), (1985.38, 73.0), (1985.43, 73.9), (1985.50, 72.5),
    (1985.59, 72.1), (1985.67, 71.6), (1985.75, 72.3), (1985.82, 72.8), (1985.91, 72.6), (1986.02, 72.3),
    (1986.10, 73.9), (1986.18, 74.9), (1986.26, 75.3), (1986.34, 75.1), (1986.43, 72.8), (1986.51, 72.1),
    (1986.59, 75.3), (1986.65, 76.7), (1986.72, 77.7), (1986.80, 77.0), (1986.88, 76.3), (1986.97, 75.6),
    (1987.04, 74.9), (1987.12, 75.3), (1987.21, 74.8), (1987.29, 74.6), (1987.37, 75.6), (1987.44, 77.4),
    (1987.53, 78.2), (1987.62, 77.4), (1987.69, 75.3), (1987.76, 74.1), (1987.83, 73.4), (1987.90, 72.6),
    (1987.98, 74.2), (1988.06, 77.0), (1988.15, 77.7), (1988.22, 78.1), (1988.30, 78.4), (1988.39, 78.6),
    (1988.48, 78.2), (1988.52, 77.2), (1988.57, 78.75), (1988.66, 80.3), (1988.74, 80.85), (1988.80, 80.0),
    (1988.88, 80.85), (1988.94, 84.2), (1989.03, 81.9), (1989.12, 79.8), (1989.20, 79.1), (1989.27, 78.75),
    (1989.35, 78.6), (1989.44, 78.4), (1989.52, 79.1), (1989.59, 78.6), (1989.66, 78.1), (1989.71, 77.3),
    (1989.79, 78.4), (1989.87, 79.3), (1989.98, 80.0), (1990.05, 81.7), (1990.10, 83.3), (1990.16, 84.4),
    (1990.27, 85.2), (1990.38, 85.9), (1990.45, 85.5), (1990.52, 86.1), (1990.59, 84.2), (1990.67, 83.1),
    (1990.75, 84.0), (1990.84, 83.1), (1990.97, 82.9), (1991.08, 82.8), (1991.16, 83.3), (1991.27, 82.9),
    (1991.34, 81.2), (1991.45, 82.2), (1991.50, 83.65), (1991.59, 82.1), (1991.66, 84.2), (1991.74, 82.1),
    (1991.81, 82.2), (1991.89, 83.5), (1991.96, 81.9), (1992.04, 80.2), (1992.13, 77.0), (1992.20, 72.8),
    (1992.26, 69.8), (1992.34, 70.7), (1992.42, 71.0), (1992.49, 70.9), (1992.56, 68.3), (1992.63, 69.0),
    (1992.71, 68.8), (1992.77, 70.5), (1992.85, 71.4), (1992.92, 70.2), (1993.01, 72.1), (1993.10, 73.8),
    (1993.17, 75.6), (1993.25, 77.7), (1993.31, 80.5), (1993.35, 77.2), (1993.42, 79.6), (1993.46, 78.6),
    (1993.53, 80.2), (1993.60, 80.5), (1993.68, 80.3), (1993.76, 80.5), (1993.85, 82.1), (1993.92, 83.8),
    (1994.00, 84.3), (1994.06, 82.9), (1994.14, 80.5), (1994.22, 78.4), (1994.28, 76.3), (1994.36, 77.4),
    (1994.41, 78.4), (1994.50, 77.7), (1994.57, 77.4), (1994.65, 77.4), (1994.73, 76.0), (1994.82, 74.9),
    (1994.89, 73.7), (1994.97, 72.6), (1995.03, 72.1), (1995.10, 72.8), (1995.18, 74.6), (1995.25, 76.3),
    (1995.32, 78.9), (1995.39, 76.7), (1995.48, 76.3), (1995.57, 77.0), (1995.65, 78.6), (1995.72, 79.4),
    (1995.81, 79.3), (1995.89, 78.1), (1995.97, 77.7), (1996.05, 77.9), (1996.13, 78.4), (1996.22, 78.6),
    (1996.30, 79.8), (1996.37, 80.85), (1996.44, 81.5), (1996.50, 82.4), (1996.60, 81.5), (1996.67, 81.2),
    (1996.75, 79.6), (1996.83, 79.5), (1996.90, 78.7), (1996.99, 79.1), (1997.04, 79.8), (1997.15, 78.6),
    (1997.26, 77.0), (1997.33, 74.9), (1997.40, 72.6), (1997.48, 72.3), (1997.55, 72.1), (1997.63, 71.2),
    (1997.72, 70.4), (1997.79, 70.9), (1997.87, 70.5), (1997.95, 71.4), (1998.04, 70.7), (1998.11, 70.2),
    (1998.19, 69.3), (1998.28, 68.3), (1998.39, 68.1), (1998.49, 69.0), (1998.60, 70.0), (1998.69, 70.7),
    (1998.76, 72.3), (1998.84, 73.5), (1998.92, 74.9), (1999.01, 74.6), (1999.12, 74.7), (1999.23, 75.2),
    (1999.30, 77.7), (1999.38, 79.1), (1999.47, 80.5), (1999.55, 80.7), (1999.63, 80.5), (1999.70, 80.7),
    (1999.78, 80.2), (1999.89, 80.0), (1999.98, 80.2), (2000.05, 82.1), (2000.13, 83.1), (2000.19, 83.8),
    (2000.26, 83.1), (2000.34, 82.4), (2000.43, 81.9), (2000.51, 80.5), (2000.59, 78.9), (2000.67, 77.0),
    (2000.73, 75.6), (2000.81, 75.3), (2000.91, 75.3), (2001.02, 74.7), (2001.13, 72.8), (2001.20, 70.7),
    (2001.27, 70.0), (2001.34, 69.3), (2001.42, 67.9), (2001.48, 67.2), (2001.56, 69.7), (2001.63, 72.1),
    (2001.72, 73.5), (2001.80, 74.9), (2001.88, 76.3), (2001.96, 77.4), (2002.04, 77.7), (2002.12, 77.4),
    (2002.20, 77.7), (2002.27, 80.2), (2002.36, 83.3), (2002.45, 86.8), (2002.52, 87.8), (2002.63, 88.5),
    (2002.71, 89.0), (2002.80, 89.7), (2002.88, 90.8), (2002.96, 89.9), (2003.04, 89.0), (2003.13, 90.4),
    (2003.20, 91.2), (2003.31, 91.5), (2003.42, 91.6), (2003.53, 91.55), (2003.63, 91.6), (2003.74, 91.5),
    (2003.82, 91.5), (2003.98, 91.9), (2004.06, 91.96), (2004.14, 89.9), (2004.21, 87.8), (2004.30, 85.9),
    (2004.38, 85.5), (2004.49, 85.4), (2004.57, 84.5), (2004.64, 83.5), (2004.73, 82.6), (2004.82, 81.9),
    (2004.90, 81.2), (2004.97, 79.3), (2005.05, 78.1), (2005.14, 77.4), (2005.22, 79.1), (2005.30, 77.9),
    (2005.35, 79.1), (2005.42, 79.5), (2005.50, 79.1), (2005.59, 77.7), (2005.67, 76.5), (2005.75, 76.3),
    (2005.82, 76.8), (2005.90, 77.0), (2005.99, 77.0), (2006.07, 76.7), (2006.15, 75.6), (2006.24, 74.2),
    (2006.29, 72.3), (2006.37, 73.3), (2006.46, 72.1), (2006.51, 70.7), (2006.59, 71.1), (2006.68, 71.2),
    (2006.75, 73.5), (2006.83, 71.8), (2006.91, 70.5), (2007.00, 69.3), (2007.04, 68.3), (2007.12, 69.0),
    (2007.20, 70.0), (2007.29, 71.4), (2007.41, 73.5), (2007.48, 75.6), (2007.55, 78.2), (2007.64, 79.1),
    (2007.74, 79.6), (2007.81, 80.2), (2007.89, 80.85), (2007.96, 81.7), (2008.03, 83.1), (2008.09, 84.5),
    (2008.18, 85.0), (2008.26, 85.0), (2008.33, 85.2), (2008.40, 84.9), (2008.50, 84.2), (2008.59, 83.3),
    (2008.66, 81.2), (2008.73, 78.75), (2008.82, 77.4), (2008.90, 76.5), (2008.98, 75.6), (2009.05, 75.5),
    (2009.13, 74.6), (2009.22, 74.6), (2009.30, 74.2), (2009.38, 73.3), (2009.46, 73.0), (2009.55, 73.3),
    (2009.62, 73.8), (2009.69, 74.4), (2009.78, 76.0), (2009.87, 77.0), (2009.95, 77.7), (2010.02, 77.7),
    (2010.11, 77.0), (2010.20, 76.8), (2010.27, 75.6), (2010.34, 73.8), (2010.43, 75.1), (2010.54, 74.7),
    (2010.65, 74.6), (2010.75, 74.6), (2010.86, 75.2), (2010.97, 76.1), (2011.07, 78.1), (2011.16, 78.4),
    (2011.27, 78.6), (2011.35, 79.8), (2011.42, 80.85), (2011.51, 81.2), (2011.59, 81.2), (2011.67, 81.7),
    (2011.74, 81.9), (2011.83, 81.2), (2011.91, 80.5), (2011.99, 79.5), (2012.07, 78.4), (2012.15, 77.4),
    (2012.24, 76.7), (2012.31, 75.6), (2012.39, 74.6), (2012.48, 73.9), (2012.53, 71.4), (2012.61, 71.9),
    (2012.67, 71.4), (2012.77, 69.1), (2012.85, 70.7), (2012.96, 71.4), (2013.06, 71.2), (2013.14, 70.9),
    (2013.23, 70.4), (2013.31, 69.3), (2013.39, 68.6), (2013.47, 70.0), (2013.55, 71.1), (2013.64, 71.6),
    (2013.71, 71.8), (2013.79, 71.8), (2013.87, 71.4), (2013.95, 71.1), (2014.03, 70.4), (2014.11, 69.3),
    (2014.19, 68.4), (2014.27, 70.7), (2014.35, 72.8), (2014.43, 74.5), (2014.52, 75.6), (2014.60, 76.3),
    (2014.68, 77.0), (2014.75, 77.7), (2014.84, 78.4), (2014.92, 79.1), (2015.00, 79.8), (2015.08, 81.9),
    (2015.16, 83.65), (2015.25, 85.2), (2015.32, 86.0), (2015.40, 85.2), (2015.48, 85.0), (2015.59, 84.9),
    (2015.68, 84.2), (2015.75, 83.5), (2015.83, 82.9), (2015.89, 81.5), (2015.93, 80.85), (2016.02, 80.85),
    (2016.07, 80.3),
]

# ---- 13-month smoothed monthly sunspot number: (year, SSN) ----
ssn = [
    (1976.00, 22.5), (1976.19, 17.3), (1976.46, 17.3), (1976.66, 20.7), (1976.86, 19.0), (1977.13, 27.7),
    (1977.39, 36.3), (1977.59, 45.0), (1977.79, 65.7), (1977.93, 79.5), (1978.13, 93.4), (1978.33, 117.6),
    (1978.53, 141.8), (1978.66, 153.9), (1978.86, 160.8), (1979.06, 179.8), (1979.26, 197.1), (1979.47, 217.9),
    (1979.67, 220.6), (1979.80, 224.8), (1979.96, 233.4), (1980.20, 228.2), (1980.47, 218.5), (1980.63, 212.7),
    (1980.80, 211.6), (1981.00, 199.9), (1981.20, 205.8), (1981.38, 203.3), (1981.54, 198.8), (1981.74, 203.0),
    (1981.94, 195.4), (1982.07, 191.9), (1982.27, 176.4), (1982.41, 167.7), (1982.54, 160.8), (1982.67, 145.2),
    (1982.81, 133.1), (1983.01, 127.9), (1983.21, 114.1), (1983.41, 100.3), (1983.54, 89.2), (1983.74, 91.6),
    (1983.94, 83.0), (1984.14, 70.9), (1984.34, 62.9), (1984.55, 57.1), (1984.68, 45.0), (1984.81, 32.9),
    (1985.01, 24.2), (1985.28, 20.7), (1985.68, 19.0), (1985.95, 18.3), (1986.15, 13.8), (1986.42, 14.9),
    (1986.72, 13.1), (1987.02, 19.0), (1987.29, 27.7), (1987.55, 35.3), (1987.82, 51.9), (1988.02, 65.7),
    (1988.22, 86.5), (1988.42, 110.7), (1988.56, 131.4), (1988.69, 152.2), (1988.82, 162.5), (1989.02, 185.0),
    (1989.22, 202.3), (1989.43, 212.7), (1989.63, 210.9), (1989.83, 213.4), (1990.03, 202.3), (1990.23, 199.9),
    (1990.49, 190.9), (1990.70, 195.4), (1990.90, 196.4), (1991.10, 204.7), (1991.36, 204.0), (1991.56, 203.3),
    (1991.76, 195.4), (1991.97, 176.4), (1992.17, 152.2), (1992.43, 136.6), (1992.63, 114.1), (1992.83, 105.5),
    (1993.03, 100.3), (1993.30, 89.9), (1993.50, 77.8), (1993.77, 62.2), (1994.04, 51.9), (1994.24, 48.4),
    (1994.44, 47.7), (1994.64, 39.8), (1994.91, 38.0), (1995.17, 32.9), (1995.44, 27.0), (1995.71, 20.7),
    (1995.98, 15.6), (1996.24, 13.1), (1996.51, 11.1), (1996.74, 11.1), (1996.94, 13.8), (1997.15, 14.5),
    (1997.35, 22.5), (1997.62, 32.9), (1997.89, 48.4), (1998.09, 64.0), (1998.29, 79.5), (1998.49, 89.9),
    (1998.69, 98.6), (1998.87, 107.2), (1999.03, 121.0), (1999.17, 122.8), (1999.37, 134.9), (1999.54, 140.0),
    (1999.70, 155.6), (1999.84, 164.3), (1999.97, 165.3), (2000.11, 171.2), (2000.24, 175.7), (2000.44, 173.6),
    (2000.58, 174.6), (2000.78, 166.0), (2000.98, 161.8), (2001.12, 152.8), (2001.25, 160.8), (2001.45, 168.8),
    (2001.66, 177.0), (2001.86, 179.8), (2001.99, 178.1), (2002.13, 179.1), (2002.26, 174.6), (2002.46, 164.3),
    (2002.66, 150.4), (2002.87, 134.9), (2003.07, 127.9), (2003.27, 112.4), (2003.47, 98.6), (2003.67, 93.4),
    (2003.88, 86.5), (2004.15, 74.3), (2004.41, 67.4), (2004.68, 60.5), (2004.95, 56.0), (2005.15, 53.6),
    (2005.36, 45.0), (2005.56, 43.2), (2005.69, 39.8), (2005.90, 37.3), (2006.16, 27.7), (2006.43, 27.0),
    (2006.64, 24.9), (2006.84, 20.7), (2007.11, 18.3), (2007.38, 13.8), (2007.64, 9.7), (2007.85, 9.7),
    (2008.12, 5.2), (2008.45, 4.1), (2008.86, 1.7), (2009.13, 1.7), (2009.39, 2.8), (2009.66, 8.6),
    (2010.00, 13.1), (2010.20, 17.3), (2010.40, 23.2), (2010.61, 25.9), (2010.81, 38.0), (2011.08, 48.4),
    (2011.21, 55.3), (2011.41, 72.6), (2011.55, 84.7), (2011.75, 87.5), (2011.88, 89.9), (2012.15, 98.6),
    (2012.29, 93.4), (2012.49, 84.7), (2012.69, 84.7), (2012.92, 88.2), (2013.10, 86.5), (2013.27, 84.0),
    (2013.50, 95.1), (2013.73, 106.2), (2013.97, 108.2), (2014.10, 111.3), (2014.27, 116.5), (2014.48, 113.4),
    (2014.64, 107.2), (2014.78, 98.6), (2014.98, 92.7), (2015.18, 84.7), (2015.38, 76.1), (2015.61, 65.7),
]

heights = ["1.5", "2.5", "3.5", "4.5"]
series = [wso_15, wso_25, wso_35, wso_45]
line_colors = ["#1f2d95", "#ff94c8", "#7e2a92", "#6fad35"]
year_ticks = [1980, 1985, 1990, 1995, 2000, 2005, 2010, 2015]

# ---- long-form frame for seaborn ----
frames = []
for h, s in zip(heights, series):
    arr = np.array(s)
    frames.append(pd.DataFrame({"year": arr[:, 0], "pct": arr[:, 1], "height": h}))
wso_df = pd.concat(frames, ignore_index=True)
ssn_arr = np.array(ssn)
ssn_df = pd.DataFrame({"year": ssn_arr[:, 0], "ssn": ssn_arr[:, 1]})

sns.set_theme(style="white")
plt.rcParams["font.family"] = ["Liberation Sans", "DejaVu Sans"]
plt.rcParams["mathtext.fontset"] = "custom"
plt.rcParams["mathtext.rm"] = "Liberation Sans"
plt.rcParams["mathtext.it"] = "Liberation Sans"

W, H = 1359, 933
fig = plt.figure(figsize=(W / 100, H / 100), dpi=100)
fig.patch.set_facecolor("white")
ax1 = fig.add_axes([81 / W, 1 - 531 / H, 1269 / W, 496 / H])
ax2 = fig.add_axes([81 / W, 1 - 870 / H, 1269 / W, 241 / H])

axis_grey = "#262626"

# ---- top panel: polarity match ----
sns.lineplot(data=wso_df, x="year", y="pct", hue="height", hue_order=heights,
             palette=dict(zip(heights, line_colors)), estimator=None, sort=False,
             linewidth=0.9, ax=ax1, legend=False)
ax1.set_xlim(1976, 2017)
ax1.set_ylim(43, 95)
ax1.set_yticks(np.arange(45, 96, 5))
ax1.set_xticks(year_ticks)
ax1.set_xlabel("")
ax1.set_ylabel("%", fontsize=15, color=axis_grey, labelpad=7)
ax1.set_title("WSO polarity match", fontsize=15, fontweight="bold", pad=7)

handles = [plt.Line2D([], [], color=c, lw=0.9) for c in line_colors]
labels = [f"{h} R $_\\mathregular{{S}}$" for h in heights]
leg = ax1.legend(handles, labels, loc="lower right",
                 bbox_to_anchor=((1335 - 81) / 1269, (531 - 512) / 496),
                 borderaxespad=0, frameon=True, fancybox=False, framealpha=1,
                 edgecolor=axis_grey, fontsize=13, handlelength=2.35,
                 handletextpad=0.3, labelspacing=0.7, borderpad=0.45)
leg.get_frame().set_linewidth(0.8)

# ---- bottom panel: sunspot number ----
sns.lineplot(data=ssn_df, x="year", y="ssn", color="#0072BD", linewidth=1.0,
             estimator=None, sort=False, ax=ax2)
ax2.set_xlim(1976, 2017)
ax2.set_ylim(0, 250)
ax2.set_yticks(np.arange(0, 251, 50))
ax2.set_xticks(year_ticks)
ax2.set_xlabel("year", fontsize=15, color=axis_grey, labelpad=5)
ax2.set_ylabel("SSN", fontsize=15, color=axis_grey, labelpad=8)
ax2.set_title("13-month smoothed monthly sunspot number", fontsize=15,
              fontweight="bold", pad=7.5)

for ax in (ax1, ax2):
    ax.tick_params(axis="both", which="major", direction="in", length=9,
                   width=0.8, top=True, right=True, colors=axis_grey,
                   labelsize=13.5, pad=7)
    ax.tick_params(axis="x", pad=10)
    for sp in ax.spines.values():
        sp.set_color(axis_grey)
        sp.set_linewidth(0.8)
    ax.set_facecolor("white")

fig.savefig("out.png", dpi=100, facecolor="white")
